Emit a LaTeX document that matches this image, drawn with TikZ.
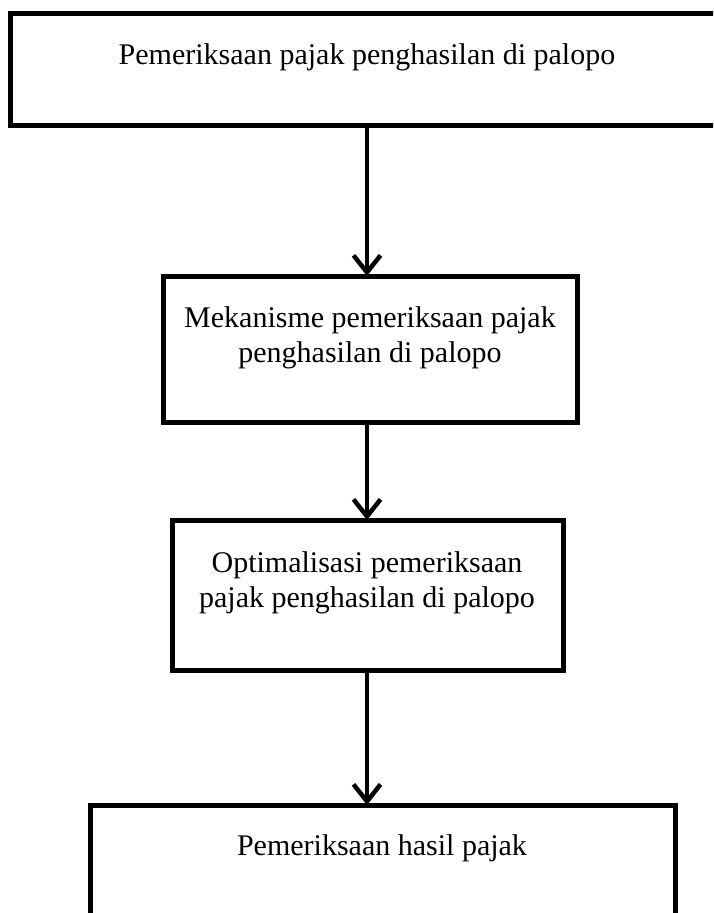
\documentclass[tikz,border=0pt]{standalone}
\usepackage{fontspec}
\setmainfont{Liberation Serif}
\usetikzlibrary{arrows.meta}
\begin{document}
\begin{tikzpicture}[x=1pt,y=-1pt,
  box/.style={draw=black, line width=5pt, rectangle, inner sep=0pt, outer sep=0pt},
  lbl/.style={inner sep=0pt, anchor=base, font=\fontsize{30}{35}\selectfont},
  arr/.style={line width=4.5pt, -{Straight Barb[length=17pt,width=27pt,line width=4.5pt]}}]
\useasboundingbox (0,0) rectangle (713,913);
\clip (0,0) rectangle (713,913);
\setlength{\tabcolsep}{0pt}
% boxes
\node[box, minimum width=720pt, minimum height=112pt] (b1) at (370,69) {};
\node[box, minimum width=414pt, minimum height=146pt] (b2) at (370,349) {};
\node[box, minimum width=391pt, minimum height=150pt] (b3) at (367.5,595) {};
\node[box, minimum width=585pt, minimum height=130pt] (b4) at (382.5,870) {};
% texts
\node[lbl] (t1) at (367,64) {Pemeriksaan pajak penghasilan di palopo};
\node[lbl] (t2) at (370,327) {\begin{tabular}[t]{c}Mekanisme pemeriksaan pajak\\penghasilan di palopo\end{tabular}};
\node[lbl] (t3) at (367,572) {\begin{tabular}[t]{c}Optimalisasi pemeriksaan\\pajak penghasilan di palopo\end{tabular}};
\node[lbl] (t4) at (382,855) {Pemeriksaan hasil pajak};
% connectors
\coordinate (ax) at (367,0);
\draw[arr] (b1.south -| ax) -- (b2.north -| ax);
\draw[arr] (b2.south -| ax) -- (b3.north -| ax);
\draw[arr] (b3.south -| ax) -- (b4.north -| ax);
\end{tikzpicture}
\end{document}
